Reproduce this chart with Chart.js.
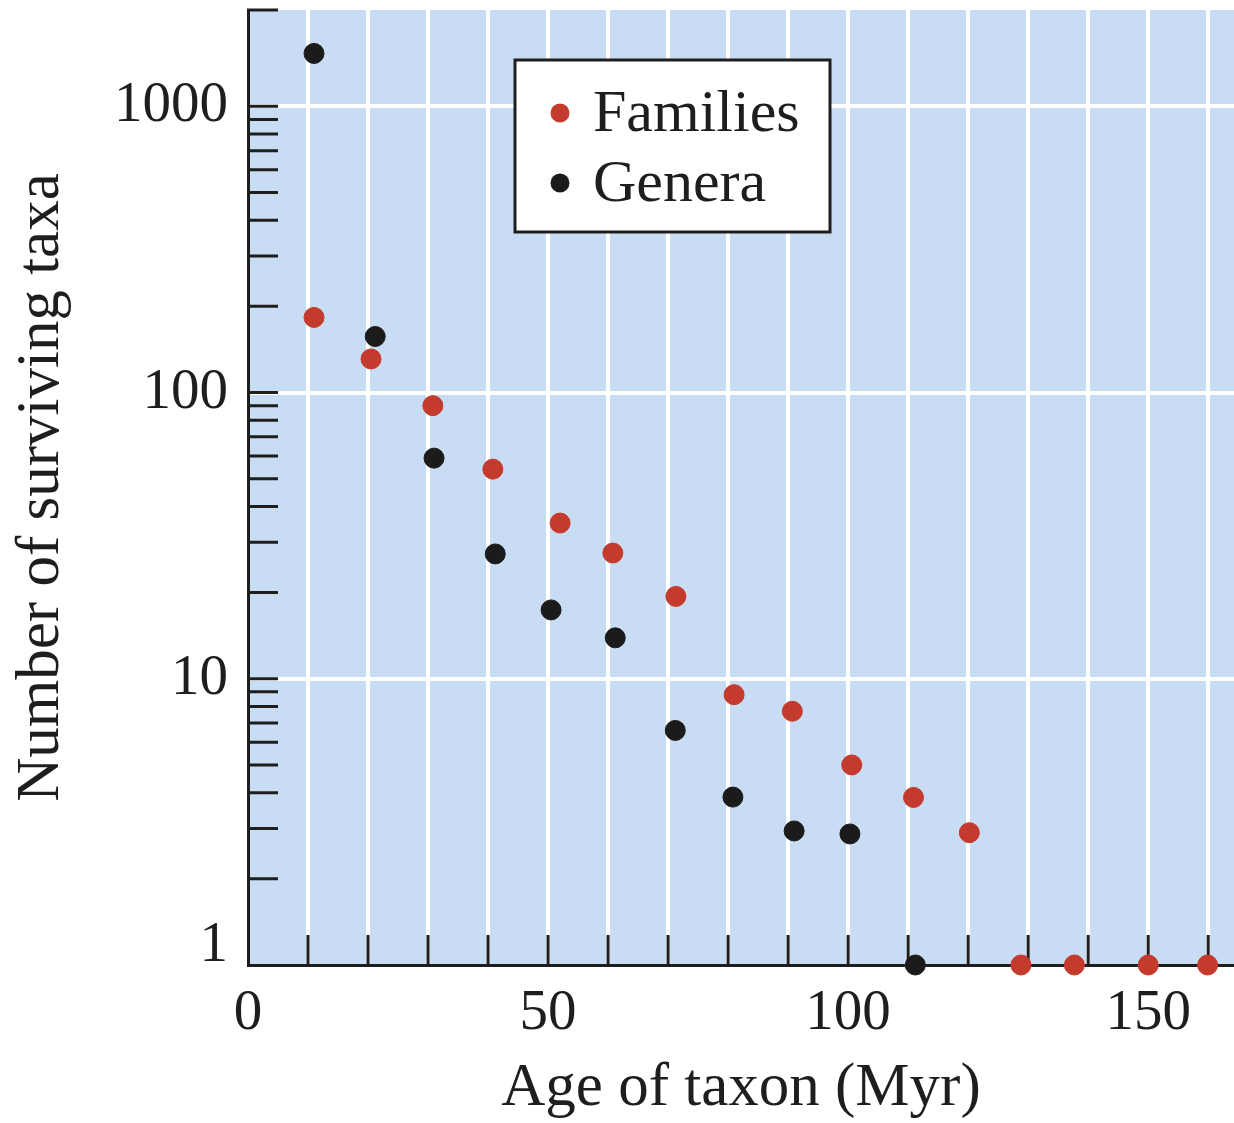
<!DOCTYPE html>
<html lang="en">
<head>
<meta charset="UTF-8">
<title>Surviving taxa by age</title>
<style>
  html, body { margin: 0; padding: 0; background: #fff; }
  #wrap { width: 1234px; height: 1123px; }
</style>
</head>
<body>
<div id="wrap"><canvas id="chart"></canvas></div>
<script src="https://cdn.jsdelivr.net/npm/chart.js@4.4.1/dist/chart.umd.min.js"></script>
<script>
// values (age in Myr, number of surviving taxa)
const familyAges   = [11, 20.5, 30.8, 40.8, 52, 60.8, 71.3, 81, 90.7, 100.6, 110.9, 120.2, 128.8, 137.7, 150, 159.9];
const familyCounts = [183, 131, 90, 54, 35, 27.5, 19.4, 8.8, 7.7, 5.0, 3.85, 2.9, 1, 1, 1, 1];
const generaAges   = [11, 21.2, 31, 41.2, 50.5, 61.2, 71.2, 80.8, 91, 100.3, 111.2];
const generaCounts = [1530, 157, 59, 27.3, 17.4, 13.9, 6.6, 3.86, 2.94, 2.87, 1];

const xTicks  = [0, 10, 20, 30, 40, 50, 60, 70, 80, 90, 100, 110, 120, 130, 140, 150, 160];
const xLabels = [0, 50, 100, 150];
const yTicks  = [1, 2, 3, 4, 5, 6, 7, 8, 9,
                 10, 20, 30, 40, 50, 60, 70, 80, 90,
                 100, 200, 300, 400, 500, 600, 700, 800, 900, 1000];
const yLabels = [1, 10, 100, 1000];

const SERIF = '"Liberation Serif", "DejaVu Serif", serif';
const RED = '#c43a2c';
const BLACK = '#1b1b1b';
const INK = '#1e1e1e';

const toPoints = (xs, ys) => xs.map((x, i) => ({ x: x, y: ys[i] }));

// light blue plot panel
const plotBg = {
  id: 'plotBg',
  beforeDraw(chart, args, opts) {
    const { ctx, chartArea: a } = chart;
    ctx.save();
    ctx.fillStyle = opts.color;
    ctx.fillRect(a.left, a.top, a.right - a.left, a.bottom - a.top);
    ctx.restore();
  }
};

// tick marks pointing into the plot, plus the cap at the top of the y axis
const innerTicks = {
  id: 'innerTicks',
  beforeDatasetsDraw(chart, args, opts) {
    const { ctx, chartArea: a, scales: { x, y } } = chart;
    ctx.save();
    ctx.strokeStyle = opts.color;
    ctx.lineWidth = opts.width;
    ctx.beginPath();
    x.ticks.forEach(t => {
      if (t.value <= 0) return;
      const px = x.getPixelForValue(t.value);
      ctx.moveTo(px, a.bottom);
      ctx.lineTo(px, a.bottom - opts.length);
    });
    y.ticks.forEach(t => {
      if (t.value <= 1) return;
      const py = y.getPixelForValue(t.value);
      ctx.moveTo(a.left, py);
      ctx.lineTo(a.left + opts.length, py);
    });
    ctx.moveTo(a.left - 1, a.top);
    ctx.lineTo(a.left + opts.length, a.top);
    ctx.stroke();
    ctx.restore();
  }
};

// boxed key inside the plot
const keyBox = {
  id: 'keyBox',
  afterDraw(chart, args, o) {
    const { ctx } = chart;
    ctx.save();
    ctx.fillStyle = '#fff';
    ctx.fillRect(o.left, o.top, o.width, o.height);
    ctx.strokeStyle = INK;
    ctx.lineWidth = 3;
    ctx.strokeRect(o.left, o.top, o.width, o.height);
    ctx.font = o.size + 'px ' + SERIF;
    ctx.textBaseline = 'middle';
    chart.data.datasets.forEach((ds, i) => {
      const cy = o.top + o.firstRow + i * o.rowGap;
      ctx.beginPath();
      ctx.arc(o.left + o.dotX, cy, o.dotR, 0, Math.PI * 2);
      ctx.fillStyle = ds.backgroundColor;
      ctx.fill();
      ctx.fillStyle = INK;
      ctx.fillText(ds.label, o.left + o.textX, cy + 2);
    });
    ctx.restore();
  }
};

new Chart(document.getElementById('chart'), {
  type: 'scatter',
  data: {
    datasets: [
      {
        label: 'Families',
        data: toPoints(familyAges, familyCounts),
        backgroundColor: RED,
        borderColor: RED,
        pointRadius: 10,
        clip: false
      },
      {
        label: 'Genera',
        data: toPoints(generaAges, generaCounts),
        backgroundColor: BLACK,
        borderColor: BLACK,
        pointRadius: 10,
        clip: false
      }
    ]
  },
  options: {
    responsive: true,
    maintainAspectRatio: false,
    animation: false,
    layout: { autoPadding: false, padding: { top: 10, left: 0, right: 0, bottom: 0 } },
    plugins: {
      legend: { display: false },
      tooltip: { enabled: false },
      plotBg: { color: '#c8dcf3' },
      innerTicks: { color: INK, width: 3, length: 30 },
      keyBox: { left: 515, top: 60, width: 315, height: 172, dotX: 45, dotR: 9.5, textX: 78, firstRow: 53, rowGap: 70, size: 60 }
    },
    scales: {
      x: {
        type: 'linear',
        min: 0,
        max: 164.3,
        afterBuildTicks: s => { s.ticks = xTicks.map(v => ({ value: v })); },
        afterFit: s => { s.height = 158; s.paddingLeft = 0; s.paddingRight = 0; },
        grid: {
          color: c => (c.tick && c.tick.value > 0) ? '#ffffff' : 'rgba(0,0,0,0)',
          lineWidth: 4,
          drawTicks: false
        },
        border: { color: INK, width: 3 },
        ticks: {
          autoSkip: false,
          maxRotation: 0,
          padding: 15,
          color: INK,
          font: { family: SERIF, size: 57 },
          callback: v => xLabels.includes(v) ? String(v) : ''
        },
        title: {
          display: true,
          text: 'Age of taxon (Myr)',
          color: INK,
          font: { family: SERIF, size: 61, lineHeight: 1.1 },
          padding: { top: 0, bottom: 0 }
        }
      },
      y: {
        type: 'logarithmic',
        min: 1,
        max: 2170,
        afterBuildTicks: s => { s.ticks = yTicks.map(v => ({ value: v })); },
        afterFit: s => { s.width = 248; s.paddingTop = 0; s.paddingBottom = 0; },
        grid: {
          color: c => (c.tick && c.tick.value > 1 && yLabels.includes(c.tick.value)) ? '#ffffff' : 'rgba(0,0,0,0)',
          lineWidth: 4,
          drawTicks: false
        },
        border: { color: INK, width: 3 },
        ticks: {
          autoSkip: false,
          padding: 20,
          color: INK,
          font: c => ({ family: SERIF, size: 57, lineHeight: (c.tick && c.tick.value === 1) ? 0.67 : 1.2 }),
          callback: v => v === 1 ? ['1', ''] : (yLabels.includes(v) ? String(v) : '')
        },
        title: {
          display: true,
          text: 'Number of surviving taxa',
          color: INK,
          font: { family: SERIF, size: 61 },
          padding: { top: 5, bottom: 0 }
        }
      }
    }
  },
  plugins: [plotBg, innerTicks, keyBox]
});
</script>
</body>
</html>
